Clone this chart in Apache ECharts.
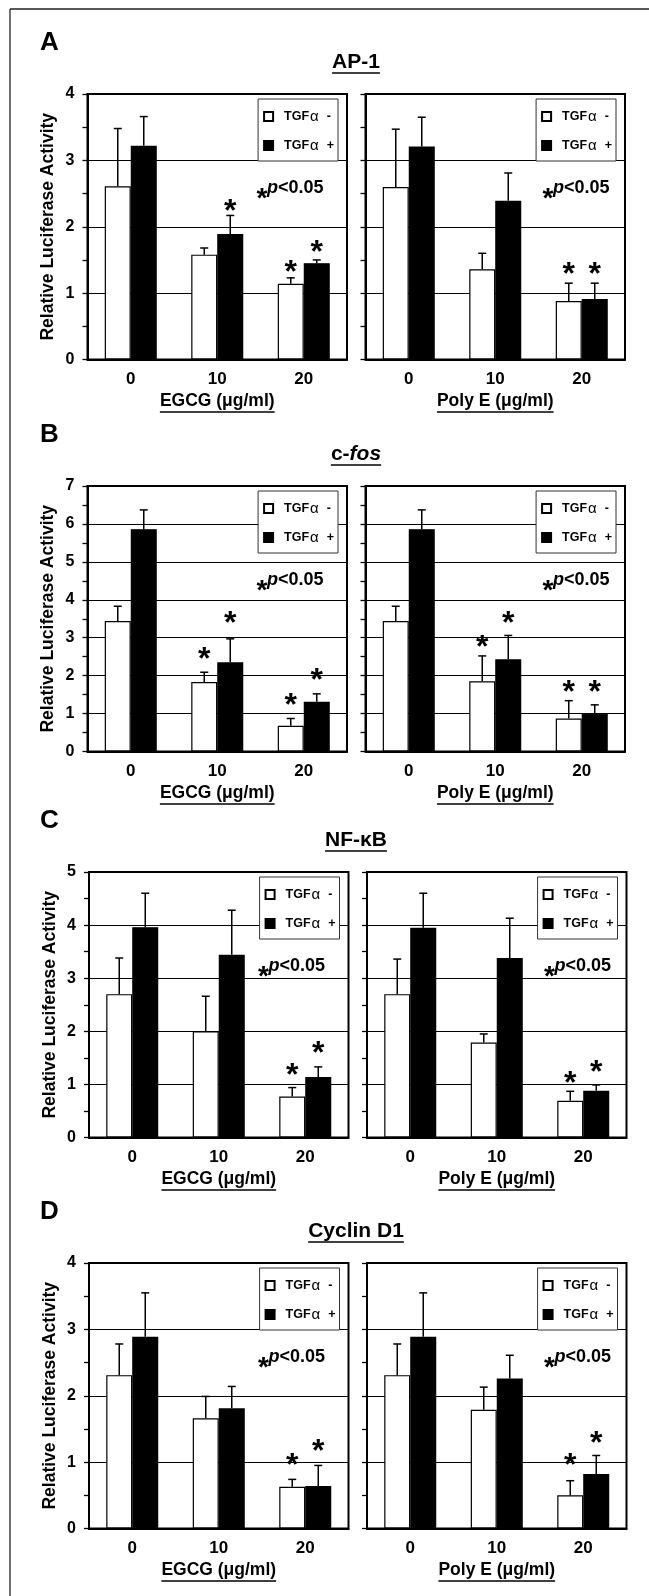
<!DOCTYPE html>
<html>
<head>
<meta charset="utf-8">
<script src="https://cdn.jsdelivr.net/npm/echarts@6/dist/echarts.min.js"></script>
<style>
html, body { margin: 0; padding: 0; background: #fff; }
#main { width: 649px; height: 1596px; }
</style>
</head>
<body>
<div id="main"></div>
<script>
var FONT = '"Liberation Sans", Arial, sans-serif';

var categories = ['0', '10', '20'];
var panelLetters = ['A', 'B', 'C', 'D'];
var panelTitles = ['AP-1', 'c-fos', 'NF-κB', 'Cyclin D1'];
var yMaxes = [4, 7, 5, 4];
var drugNames = ['EGCG (μg/ml)', 'Poly E (μg/ml)'];
var seriesNames = ['TGFα -', 'TGFα +'];

// A: AP-1
var ap1EgcgMinus = [2.61, 1.58, 1.14];
var ap1EgcgMinusSd = [0.87, 0.10, 0.09];
var ap1EgcgPlus = [3.22, 1.89, 1.45];
var ap1EgcgPlusSd = [0.44, 0.28, 0.05];
var ap1EgcgMinusStar = [null, null, 1.40];
var ap1EgcgPlusStar = [null, 2.33, 1.70];

var ap1PolyMinus = [2.60, 1.36, 0.88];
var ap1PolyMinusSd = [0.87, 0.24, 0.27];
var ap1PolyPlus = [3.21, 2.39, 0.91];
var ap1PolyPlusSd = [0.44, 0.42, 0.24];
var ap1PolyMinusStar = [null, null, 1.38];
var ap1PolyPlusStar = [null, null, 1.38];

// B: c-fos
var fosEgcgMinus = [3.44, 1.83, 0.68];
var fosEgcgMinusSd = [0.39, 0.26, 0.19];
var fosEgcgPlus = [5.86, 2.35, 1.31];
var fosEgcgPlusSd = [0.51, 0.62, 0.21];
var fosEgcgMinusStar = [null, 2.59, 1.38];
var fosEgcgPlusStar = [null, 3.53, 2.03];

var fosPolyMinus = [3.44, 1.85, 0.87];
var fosPolyMinusSd = [0.39, 0.67, 0.47];
var fosPolyPlus = [5.86, 2.43, 1.00];
var fosPolyPlusSd = [0.51, 0.63, 0.23];
var fosPolyMinusStar = [null, 2.91, 1.71];
var fosPolyPlusStar = [null, 3.53, 1.71];

// C: NF-kB
var nfkbEgcgMinus = [2.70, 2.00, 0.77];
var nfkbEgcgMinusSd = [0.68, 0.66, 0.17];
var nfkbEgcgPlus = [3.96, 3.44, 1.14];
var nfkbEgcgPlusSd = [0.64, 0.84, 0.19];
var nfkbEgcgMinusStar = [null, null, 1.29];
var nfkbEgcgPlusStar = [null, null, 1.71];

var nfkbPolyMinus = [2.70, 1.79, 0.69];
var nfkbPolyMinusSd = [0.66, 0.16, 0.18];
var nfkbPolyPlus = [3.95, 3.38, 0.88];
var nfkbPolyPlusSd = [0.65, 0.75, 0.11];
var nfkbPolyMinusStar = [null, null, 1.13];
var nfkbPolyPlusStar = [null, null, 1.35];

// D: Cyclin D1
var cycEgcgMinus = [2.31, 1.66, 0.63];
var cycEgcgMinusSd = [0.47, 0.33, 0.11];
var cycEgcgPlus = [2.89, 1.81, 0.64];
var cycEgcgPlusSd = [0.66, 0.33, 0.31];
var cycEgcgMinusStar = [null, null, 1.05];
var cycEgcgPlusStar = [null, null, 1.25];

var cycPolyMinus = [2.31, 1.79, 0.50];
var cycPolyMinusSd = [0.47, 0.34, 0.22];
var cycPolyPlus = [2.89, 2.26, 0.82];
var cycPolyPlusSd = [0.66, 0.35, 0.28];
var cycPolyMinusStar = [null, null, 1.05];
var cycPolyPlusStar = [null, null, 1.38];

var plots = [
    { panel: 0, side: 0, minus: ap1EgcgMinus, minusSd: ap1EgcgMinusSd, plus: ap1EgcgPlus, plusSd: ap1EgcgPlusSd, minusStar: ap1EgcgMinusStar, plusStar: ap1EgcgPlusStar },
    { panel: 0, side: 1, minus: ap1PolyMinus, minusSd: ap1PolyMinusSd, plus: ap1PolyPlus, plusSd: ap1PolyPlusSd, minusStar: ap1PolyMinusStar, plusStar: ap1PolyPlusStar },
    { panel: 1, side: 0, minus: fosEgcgMinus, minusSd: fosEgcgMinusSd, plus: fosEgcgPlus, plusSd: fosEgcgPlusSd, minusStar: fosEgcgMinusStar, plusStar: fosEgcgPlusStar },
    { panel: 1, side: 1, minus: fosPolyMinus, minusSd: fosPolyMinusSd, plus: fosPolyPlus, plusSd: fosPolyPlusSd, minusStar: fosPolyMinusStar, plusStar: fosPolyPlusStar },
    { panel: 2, side: 0, minus: nfkbEgcgMinus, minusSd: nfkbEgcgMinusSd, plus: nfkbEgcgPlus, plusSd: nfkbEgcgPlusSd, minusStar: nfkbEgcgMinusStar, plusStar: nfkbEgcgPlusStar },
    { panel: 2, side: 1, minus: nfkbPolyMinus, minusSd: nfkbPolyMinusSd, plus: nfkbPolyPlus, plusSd: nfkbPolyPlusSd, minusStar: nfkbPolyMinusStar, plusStar: nfkbPolyPlusStar },
    { panel: 3, side: 0, minus: cycEgcgMinus, minusSd: cycEgcgMinusSd, plus: cycEgcgPlus, plusSd: cycEgcgPlusSd, minusStar: cycEgcgMinusStar, plusStar: cycEgcgPlusStar },
    { panel: 3, side: 1, minus: cycPolyMinus, minusSd: cycPolyMinusSd, plus: cycPolyPlus, plusSd: cycPolyPlusSd, minusStar: cycPolyMinusStar, plusStar: cycPolyPlusStar }
];

// layout
var panelTop = [94, 486, 872, 1263];
var panelLeft = [87.5, 87.5, 89, 89];
var plotW = 259.5, plotH = 265.5, plotStep = 278;
var barW = 26;

var measureCtx = document.createElement('canvas').getContext('2d');
function textWidth(str, size, style) {
    measureCtx.font = (style || '') + ' bold ' + size + 'px ' + FONT;
    return measureCtx.measureText(str).width;
}

function errorRender(params, api) {
    var base = api.coord([api.value(0), api.value(1)]);
    var top = api.coord([api.value(0), api.value(1) + api.value(2)]);
    var cx = base[0] + api.value(3) * barW / 2;
    return {
        type: 'group',
        children: [
            { type: 'line', shape: { x1: cx, y1: base[1], x2: cx, y2: top[1] }, style: { stroke: '#000', lineWidth: 1.5 } },
            { type: 'line', shape: { x1: cx - 4, y1: top[1], x2: cx + 4, y2: top[1] }, style: { stroke: '#000', lineWidth: 1.5 } }
        ]
    };
}

function starRender(params, api) {
    var p = api.coord([api.value(0), api.value(1)]);
    var cx = p[0] + api.value(2) * barW / 2;
    return {
        type: 'text',
        x: cx, y: p[1] + 7,
        style: {
            text: '*', fill: '#000', font: 'bold 32px ' + FONT,
            align: 'center', verticalAlign: 'middle', textAlign: 'center', textVerticalAlign: 'middle'
        }
    };
}

var grids = [], xAxes = [], yAxes = [], series = [], legends = [], graphics = [];

plots.forEach(function (p, i) {
    var left = panelLeft[p.panel] + p.side * plotStep;
    var top = panelTop[p.panel];
    grids.push({ left: left, top: top, width: plotW, height: plotH, show: true, borderColor: '#000', borderWidth: 2 });

    xAxes.push({
        gridIndex: i, type: 'category', data: categories,
        axisLine: { lineStyle: { color: '#000', width: 2 } },
        axisTick: { length: 5, lineStyle: { color: '#000', width: 1.3 } },
        axisLabel: { color: '#000', fontFamily: FONT, fontWeight: 'bold', fontSize: 17, margin: 11 },
        splitLine: { show: false }
    });

    yAxes.push({
        gridIndex: i, type: 'value', min: 0, max: yMaxes[p.panel], interval: 1,
        axisLine: { show: true, lineStyle: { color: '#000', width: 2 } },
        axisTick: { show: true, length: 5, lineStyle: { color: '#000', width: 1.3 } },
        minorTick: { show: true, splitNumber: 2, length: 5, lineStyle: { color: '#000', width: 1.3 } },
        axisLabel: { show: p.side === 0, color: '#000', fontFamily: FONT, fontWeight: 'bold', fontSize: 16, margin: 13 },
        splitLine: { show: true, lineStyle: { color: '#000', width: 1 } },
        name: p.side === 0 ? 'Relative Luciferase Activity' : '',
        nameLocation: 'middle', nameGap: 30, nameRotate: 90,
        nameTextStyle: { color: '#000', fontFamily: FONT, fontWeight: 'bold', fontSize: 17.5 }
    });

    series.push({
        type: 'bar', name: seriesNames[0], xAxisIndex: i, yAxisIndex: i, data: p.minus,
        barWidth: barW, barGap: '0%',
        itemStyle: { color: '#fff', borderColor: '#000', borderWidth: 1.2 }
    });
    series.push({
        type: 'bar', name: seriesNames[1], xAxisIndex: i, yAxisIndex: i, data: p.plus,
        barWidth: barW, barGap: '0%',
        itemStyle: { color: '#000', borderColor: '#000', borderWidth: 1.2 }
    });

    var errData = [];
    var starData = [];
    for (var k = 0; k < categories.length; k++) {
        errData.push([k, p.minus[k], p.minusSd[k], -1]);
        errData.push([k, p.plus[k], p.plusSd[k], 1]);
        if (p.minusStar[k] != null) starData.push([k, p.minusStar[k], -1]);
        if (p.plusStar[k] != null) starData.push([k, p.plusStar[k], 1]);
    }
    series.push({ type: 'custom', xAxisIndex: i, yAxisIndex: i, data: errData, renderItem: errorRender, encode: { x: 0, y: 1 }, z: 5 });
    series.push({ type: 'custom', xAxisIndex: i, yAxisIndex: i, data: starData, renderItem: starRender, encode: { x: 0, y: 1 }, z: 5 });

    var plotRight = left + plotW;
    legends.push({
        orient: 'vertical', right: 649 - (plotRight - 9), top: top + 5,
        data: seriesNames, selectedMode: false, icon: 'rect',
        itemWidth: 9, itemHeight: 9, itemGap: 14,
        padding: [10, 4, 8, 5],
        borderColor: '#333', borderWidth: 1, backgroundColor: '#fff',
        formatter: function (name) {
            return '{f|TGF}{g|α}{b|  ' + name.slice(-1) + '}';
        },
        textStyle: {
            color: '#000', fontFamily: FONT, fontSize: 12.5, fontWeight: 'bold', lineHeight: 14,
            rich: {
                f: { color: '#000', fontFamily: FONT, fontSize: 12.5, fontWeight: 'bold', lineHeight: 14, padding: [0, 0, 0, 6] },
                b: { color: '#000', fontFamily: FONT, fontSize: 12.5, fontWeight: 'bold', lineHeight: 14 },
                g: { color: '#000', fontFamily: FONT, fontSize: 15, fontWeight: 'normal', lineHeight: 14, padding: [0, 1, 0, 1] }
            }
        }
    });

    // *p<0.05 note
    var noteX = plotRight - (p.side === 0 ? 90 : 82);
    var noteY = top + 94;
    graphics.push({
        type: 'text', x: noteX + 5, y: noteY + 11,
        style: { text: '*', fill: '#000', font: 'bold 28px ' + FONT, textAlign: 'center', textVerticalAlign: 'middle' }
    });
    graphics.push({
        type: 'text', x: noteX + 10, y: noteY,
        style: {
            text: '{i|p}{n|<0.05}', fill: '#000', textAlign: 'left', textVerticalAlign: 'middle',
            rich: {
                i: { fontFamily: FONT, fontSize: 18, fontWeight: 'bold', fontStyle: 'italic', fill: '#000' },
                n: { fontFamily: FONT, fontSize: 18, fontWeight: 'bold', fill: '#000' }
            }
        }
    });

    // drug axis name, underlined
    var cx = left + plotW / 2;
    var ny = top + plotH + 42;
    var nw = textWidth(drugNames[p.side], 17.5);
    graphics.push({
        type: 'text', x: cx, y: ny,
        style: { text: drugNames[p.side], fill: '#000', font: 'bold 17.5px ' + FONT, textAlign: 'center', textVerticalAlign: 'middle' }
    });
    graphics.push({
        type: 'line', shape: { x1: cx - nw / 2, y1: ny + 10.5, x2: cx + nw / 2, y2: ny + 10.5 },
        style: { stroke: '#000', lineWidth: 1.5 }
    });
});

// panel letters and titles
panelTitles.forEach(function (t, j) {
    var top = panelTop[j];
    graphics.push({
        type: 'text', x: 40, y: top - 51,
        style: { text: panelLetters[j], fill: '#000', font: 'bold 26px ' + FONT, textAlign: 'left', textVerticalAlign: 'middle' }
    });
    var tx = 356, ty = top - 31.5, tw;
    if (t === 'c-fos') {
        tw = textWidth('c-', 21) + textWidth('fos', 21, 'italic');
        graphics.push({
            type: 'text', x: tx, y: ty,
            style: {
                text: '{n|c-}{i|fos}', fill: '#000', textAlign: 'center', textVerticalAlign: 'middle',
                rich: {
                    n: { fontFamily: FONT, fontSize: 21, fontWeight: 'bold', fill: '#000' },
                    i: { fontFamily: FONT, fontSize: 21, fontWeight: 'bold', fontStyle: 'italic', fill: '#000' }
                }
            }
        });
    } else {
        tw = textWidth(t, 21);
        graphics.push({
            type: 'text', x: tx, y: ty,
            style: { text: t, fill: '#000', font: 'bold 21px ' + FONT, textAlign: 'center', textVerticalAlign: 'middle' }
        });
    }
    graphics.push({
        type: 'line', shape: { x1: tx - tw / 2, y1: ty + 10.5, x2: tx + tw / 2, y2: ty + 10.5 },
        style: { stroke: '#000', lineWidth: 1.6 }
    });
});

// outer frame (left and top edges)
graphics.push({ type: 'line', shape: { x1: 10, y1: 9, x2: 649, y2: 9 }, style: { stroke: '#222', lineWidth: 1.3 } });
graphics.push({ type: 'line', shape: { x1: 10, y1: 9, x2: 10, y2: 1596 }, style: { stroke: '#222', lineWidth: 1.3 } });

var myChart = echarts.init(document.getElementById('main'));
myChart.setOption({
    backgroundColor: '#fff',
    animation: false,
    grid: grids,
    xAxis: xAxes,
    yAxis: yAxes,
    legend: legends,
    series: series,
    graphic: { elements: graphics }
});
</script>
</body>
</html>
